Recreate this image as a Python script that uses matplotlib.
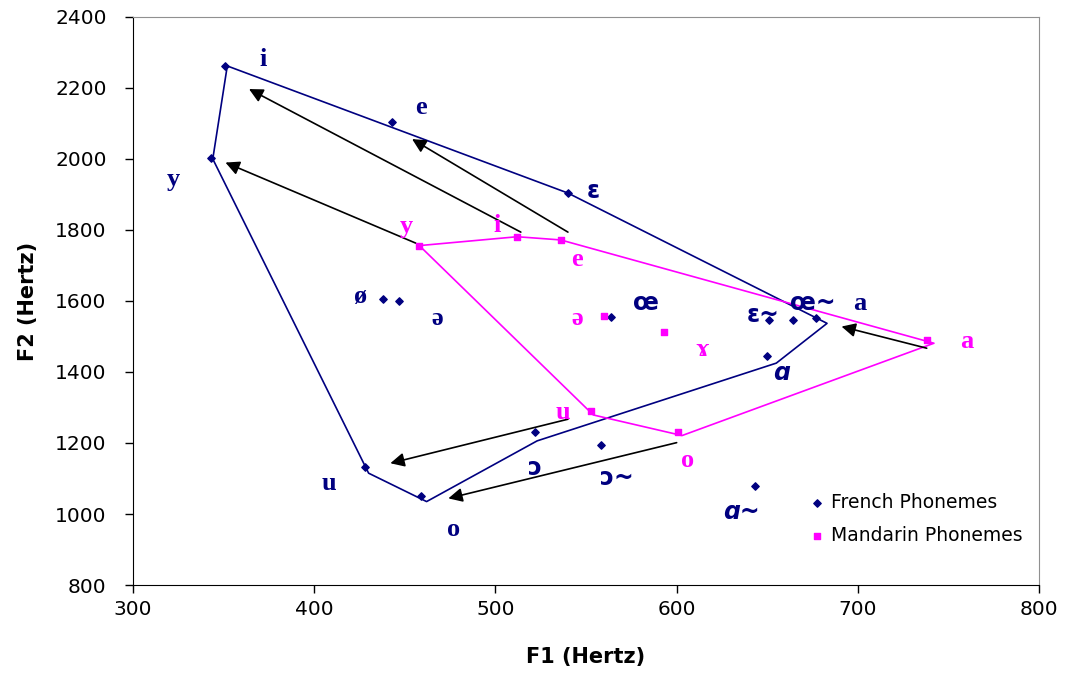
import numpy as np
import matplotlib
matplotlib.use('Agg')
from matplotlib import pyplot as plt

# French vowels (F1, F2 in Hertz)
french_labels = ['i', 'e', 'ɛ', 'y', 'ø', 'ə', 'œ', 'ɛ~', 'œ~', 'a', 'ɑ', 'ɔ', 'ɔ~', 'u', 'o', 'ɑ~']
french_f1 = [351, 443, 540, 343, 438, 447, 564, 651, 664, 677, 650, 522, 558, 428, 459, 643]
french_f2 = [2263, 2103, 1903, 2002, 1605, 1600, 1556, 1547, 1546, 1551, 1445, 1230, 1194, 1132, 1051, 1080]
french_text_f1 = [372, 459, 554, 322, 425, 468, 583, 648, 675, 701, 658, 522, 567, 408, 477, 636]
french_text_f2 = [2279, 2144, 1910, 1941, 1612, 1551, 1594, 1561, 1594, 1594, 1396, 1129, 1101, 1087, 955, 1007]

# Mandarin vowels
mandarin_labels = ['y', 'i', 'e', 'ə', 'ɤ', 'u', 'o', 'a']
mandarin_f1 = [458, 512, 536, 560, 593, 553, 601, 738]
mandarin_f2 = [1756, 1781, 1772, 1558, 1514, 1291, 1230, 1490]
mandarin_text_f1 = [451, 501, 545, 545, 614, 537, 606, 760]
mandarin_text_f2 = [1809, 1814, 1716, 1551, 1462, 1287, 1152, 1485]

# vowel space outlines
french_outline_f1 = [352, 540, 683, 655, 523, 462, 430, 344, 352]
french_outline_f2 = [2262, 1904, 1537, 1425, 1206, 1035, 1115, 2000, 2262]
mandarin_outline_f1 = [458, 512, 536, 742, 603, 554, 458]
mandarin_outline_f2 = [1756, 1781, 1772, 1481, 1221, 1279, 1756]

# arrows: Mandarin -> French
arrow_from_f1 = [514, 540, 456, 738, 540, 600]
arrow_from_f2 = [1794, 1794, 1763, 1467, 1267, 1201]
arrow_to_f1 = [364, 454, 351, 691, 442, 474]
arrow_to_f2 = [2197, 2056, 1990, 1528, 1143, 1044]

navy = '#000080'
magenta = '#FF00FF'
serif = ['Liberation Serif', 'DejaVu Serif']
sans_ipa = {'ɛ', 'œ', 'ɛ~', 'œ~', 'ɔ', 'ɔ~', 'ɑ', 'ɑ~'}

fig = plt.figure(figsize=(10.67, 6.76), dpi=100)
ax = fig.add_axes([0.1247, 0.1346, 0.8491, 0.8403])

ax.plot(french_outline_f1, french_outline_f2, color=navy, lw=1.2, zorder=2)
ax.plot(mandarin_outline_f1, mandarin_outline_f2, color=magenta, lw=1.2, zorder=2)

for x0, y0, x1, y1 in zip(arrow_from_f1, arrow_from_f2, arrow_to_f1, arrow_to_f2):
    ax.annotate('', xy=(x1, y1), xytext=(x0, y0),
                arrowprops=dict(arrowstyle='-|>', color='black', lw=1.2,
                                mutation_scale=21, shrinkA=0, shrinkB=0),
                zorder=3)

ax.scatter(french_f1, french_f2, marker='D', s=14, color=navy, zorder=4, label='French Phonemes')
ax.scatter(mandarin_f1, mandarin_f2, marker='s', s=22, color=magenta, zorder=4, label='Mandarin Phonemes')

for lab, x, y in zip(french_labels, french_text_f1, french_text_f2):
    if lab in sans_ipa:
        style = 'italic' if lab.startswith('ɑ') else 'normal'
        ax.text(x, y, lab, color=navy, fontsize=17, fontweight='bold', fontstyle=style,
                family='DejaVu Sans', ha='center', va='center', zorder=5)
    else:
        ax.text(x, y, lab, color=navy, fontsize=19, fontweight='bold',
                family=serif, ha='center', va='center', zorder=5)

for lab, x, y in zip(mandarin_labels, mandarin_text_f1, mandarin_text_f2):
    ax.text(x, y, lab, color=magenta, fontsize=19, fontweight='bold',
            family=serif, ha='center', va='center', zorder=5)

ax.set_xlim(300, 800)
ax.set_ylim(800, 2400)
ax.set_xticks(np.arange(300, 801, 100))
ax.set_yticks(np.arange(800, 2401, 200))
ax.tick_params(direction='out', length=6, width=1, labelsize=14.5)
ax.tick_params(axis='y', pad=13)
ax.tick_params(axis='x', pad=5)
for t in ax.get_xticklabels() + ax.get_yticklabels():
    t.set_family('DejaVu Sans')
ax.spines['top'].set_color('#909090')
ax.spines['right'].set_color('#909090')
ax.spines['left'].set_color('black')
ax.spines['bottom'].set_color('black')
ax.set_xlabel('F1 (Hertz)', fontsize=15, fontweight='bold', family='DejaVu Sans', labelpad=20)
ax.set_ylabel('F2 (Hertz)', fontsize=15, fontweight='bold', family='DejaVu Sans', labelpad=12)

ax.legend(loc='lower right', bbox_to_anchor=(1.0, 0.04), frameon=False,
          prop={'family': 'DejaVu Sans', 'size': 13.5}, handletextpad=0.1,
          handlelength=1.2, labelspacing=0.75, markerscale=1.0)

fig.savefig('out.png', dpi=100)
